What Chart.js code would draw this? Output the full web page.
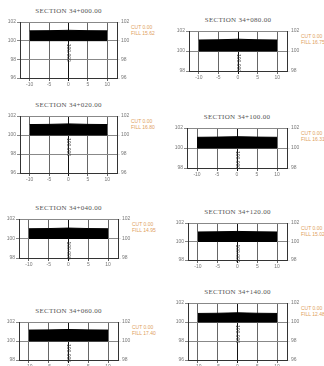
<!DOCTYPE html>
<html>
<head>
<meta charset="utf-8">
<script src="https://cdn.jsdelivr.net/npm/chart.js@4"></script>
<style>
  body { margin: 0; background: #fff; width: 324px; height: 366px; overflow: hidden; position: relative; }
  canvas { position: absolute; }
  .title { position: absolute; font: 7px "Liberation Serif", serif; color: #555; white-space: nowrap; transform: translate(-50%, -50%); letter-spacing: 0.3px; }
  .area { position: absolute; font: 5px "Liberation Sans", sans-serif; color: #e0a060; white-space: nowrap; line-height: 5.5px; }
</style>
</head>
<body>
<script>
// chainage of each cross section (left column first, then right column)
const stations = ['34+000.00', '34+020.00', '34+040.00', '34+060.00',
                  '34+080.00', '34+100.00', '34+120.00', '34+140.00'];

// offsets from centreline (m), also the offset ticks
const offsets = [-10, -5, 0, 5, 10];

// top of pavement at each offset, per section
const roadTop = [
    [101.05, 101.07, 101.11, 101.07, 101.05],
    [101.10, 101.12, 101.17, 101.12, 101.10],
    [101.00, 101.02, 101.07, 101.02, 101.00],
    [101.15, 101.17, 101.21, 101.17, 101.15],
    [101.10, 101.12, 101.18, 101.12, 101.10],
    [101.07, 101.09, 101.13, 101.09, 101.07],
    [101.03, 101.05, 101.09, 101.05, 101.03],
    [100.90, 100.92, 100.97, 100.92, 100.90]
];
// bottom of pavement
const roadBottom = [100, 100, 100, 100, 100];

// elevation axis range per section
const elevMin = [96, 96, 98, 98, 98, 98, 98, 96];
const elevMax = [102, 102, 102, 102, 102, 102, 102, 102];

// centreline elevation label
const clLabel = ['100.000', '100.000', '100.000', '100.000', '100.000', '100.000', '100.000', '100.000'];

// areas written in orange next to each section
const cutArea = ['0.00', '0.00', '0.00', '0.00', '0.00', '0.00', '0.00', '0.00'];
const fillArea = ['15.62', '16.80', '14.95', '17.40', '16.75', '16.31', '15.02', '12.48'];

// frame box of each section: left, top, right, bottom
const frames = [
    [20, 22, 117, 78], [20, 116, 117, 173], [19, 219, 118, 258], [19, 322, 118, 360],
    [189, 31, 287, 71], [187, 128, 287, 168], [188, 223, 287, 260], [188, 303, 287, 360]
];

const tickFont = { size: 5, family: 'Liberation Sans' };

const centreText = {
    id: 'centreText',
    afterDatasetsDraw(chart, args, opts) {
        const { ctx, scales } = chart;
        const x = scales.x.getPixelForValue(0);
        const y = scales.y.getPixelForValue(100) + 3;
        ctx.save();
        ctx.translate(x, y);
        ctx.rotate(Math.PI / 2);
        ctx.font = '5px Liberation Sans';
        ctx.fillStyle = '#333';
        ctx.textBaseline = 'middle';
        ctx.fillText(opts.text, 0, 0);
        ctx.restore();
    }
};

stations.forEach((st, i) => {
    const [l, t, r, b] = frames[i];

    const title = document.createElement('div');
    title.className = 'title';
    title.style.left = ((l + r) / 2) + 'px';
    title.style.top = (t - 11) + 'px';
    title.textContent = 'SECTION  ' + st;
    document.body.appendChild(title);

    const area = document.createElement('div');
    area.className = 'area';
    area.style.left = (r + 14) + 'px';
    area.style.top = (t + 3) + 'px';
    area.innerHTML = 'CUT ' + cutArea[i] + '<br>FILL ' + fillArea[i];
    document.body.appendChild(area);

    const canvas = document.createElement('canvas');
    canvas.width = r - l + 32;
    canvas.height = b - t + 14;
    canvas.style.left = (l - 16) + 'px';
    canvas.style.top = (t - 4) + 'px';
    document.body.appendChild(canvas);

    const yTicks = { stepSize: 2, font: tickFont, color: '#777', padding: 1 };

    new Chart(canvas, {
        type: 'line',
        data: {
            datasets: [{
                data: offsets.map((o, k) => ({ x: o, y: roadTop[i][k] })),
                borderColor: '#000',
                backgroundColor: '#000',
                borderWidth: 1,
                pointRadius: 0,
                fill: '+1'
            }, {
                data: offsets.map((o, k) => ({ x: o, y: roadBottom[k] })),
                borderColor: '#000',
                borderWidth: 1,
                pointRadius: 0,
                fill: false
            }]
        },
        options: {
            responsive: false,
            animation: false,
            devicePixelRatio: 1,
            layout: { padding: { top: 4, left: 0, right: 0, bottom: 0 } },
            plugins: {
                legend: { display: false },
                tooltip: { enabled: false },
                centreText: { text: clLabel[i] }
            },
            scales: {
                x: {
                    type: 'linear',
                    min: -12.5,
                    max: 12.5,
                    afterFit: s => { s.height = 10; },
                    afterBuildTicks: s => { s.ticks = offsets.map(v => ({ value: v })); },
                    ticks: { font: tickFont, color: '#777', padding: 1, maxRotation: 0 },
                    grid: { color: c => (c.tick && c.tick.value === 0 ? '#111' : '#666'), tickLength: 3 },
                    border: { color: '#333' }
                },
                y: {
                    min: elevMin[i],
                    max: elevMax[i],
                    afterFit: s => { s.width = 16; },
                    ticks: yTicks,
                    grid: { color: '#888', tickLength: 3 },
                    border: { color: '#333' }
                },
                y2: {
                    position: 'right',
                    min: elevMin[i],
                    max: elevMax[i],
                    afterFit: s => { s.width = 16; },
                    ticks: yTicks,
                    grid: { drawOnChartArea: false, tickLength: 3 },
                    border: { color: '#333' }
                }
            }
        },
        plugins: [centreText]
    });
});
</script>
</body>
</html>
